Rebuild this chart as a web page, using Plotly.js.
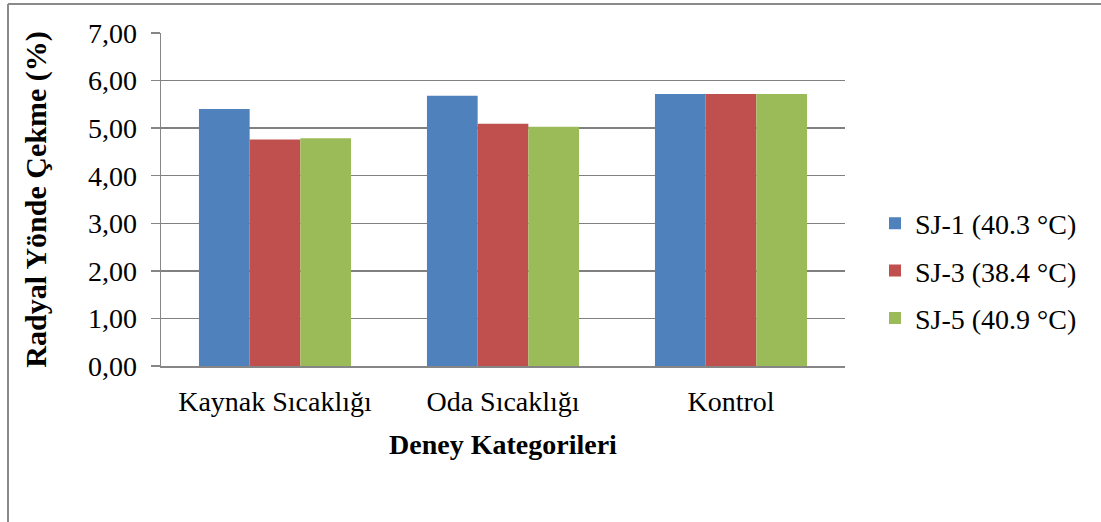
<!DOCTYPE html>
<html>
<head>
<meta charset="utf-8">
<script src="https://cdn.plot.ly/plotly-3.0.1.min.js"></script>
<style>
  html, body { margin: 0; padding: 0; background: #fff; }
  #chart { width: 1101px; height: 522px; }
</style>
</head>
<body>
<div id="chart"></div>
<script>
const categories = ["Kaynak Sıcaklığı", "Oda Sıcaklığı", "Kontrol"];
const seriesNames = ["SJ-1 (40.3 °C)", "SJ-3 (38.4 °C)", "SJ-5 (40.9 °C)"];
const sj1 = [5.40, 5.68, 5.72];
const sj3 = [4.76, 5.09, 5.72];
const sj5 = [4.79, 5.03, 5.72];
const colors = ["#4F81BD", "#C0504D", "#9BBB59"];
const yTitle = "Radyal Yönde Çekme (%)";
const xTitle = "Deney Kategorileri";

const W = 1101, H = 522;
const M = { l: 161, r: 256, t: 33, b: 156 };
const pw = W - M.l - M.r, ph = H - M.t - M.b;
const px = x => (x - M.l) / pw;
const py = y => (H - M.b - y) / ph;

const serif = "Liberation Serif";
const values = [sj1, sj3, sj5];
const traces = values.map((v, i) => ({
  type: "bar",
  name: seriesNames[i],
  x: categories,
  y: v,
  marker: { color: colors[i], line: { width: 0 } },
  legendgroup: "g" + i,
  hoverinfo: "x+y+name"
}));

const layout = {
  width: W, height: H,
  margin: M,
  paper_bgcolor: "#fff",
  plot_bgcolor: "#fff",
  separators: ",.",
  barmode: "group",
  bargap: 0.333,
  bargroupgap: 0,
  font: { family: serif, size: 28, color: "#000" },
  xaxis: {
    showline: true, linecolor: "#868686", linewidth: 1.5,
    ticks: "", showgrid: false,
    ticklabelstandoff: 10,
    tickfont: { family: serif, size: 28, color: "#000" },
    title: { text: xTitle, font: { family: serif, size: 28, color: "#000", weight: "bold" }, standoff: 18 }
  },
  yaxis: {
    range: [0, 7], dtick: 1, tickformat: ".2f",
    showline: true, linecolor: "#868686", linewidth: 1.5,
    ticks: "outside", ticklen: 9, tickcolor: "#868686", tickwidth: 1.5,
    showgrid: true, gridcolor: "#808080", gridwidth: 1.4,
    zeroline: false,
    ticklabelstandoff: 8,
    tickfont: { family: serif, size: 28, color: "#000" },
    title: { text: yTitle, font: { family: serif, size: 30, color: "#000", weight: "bold" }, standoff: 32 }
  },
  legend: {
    x: px(875), y: py(271), xanchor: "left", yanchor: "middle",
    font: { family: serif, size: 28, color: "#000" },
    traceorder: "grouped", tracegroupgap: 8,
    bgcolor: "rgba(0,0,0,0)"
  },
  shapes: [
    { type: "line", xref: "paper", yref: "paper", x0: px(8), x1: px(8), y0: py(4), y1: py(530), line: { color: "#8a8a8a", width: 2 } },
    { type: "line", xref: "paper", yref: "paper", x0: px(8), x1: px(1110), y0: py(4), y1: py(4), line: { color: "#8a8a8a", width: 2 } }
  ]
};

Plotly.newPlot("chart", traces, layout, { displayModeBar: false, staticPlot: true });
</script>
</body>
</html>
